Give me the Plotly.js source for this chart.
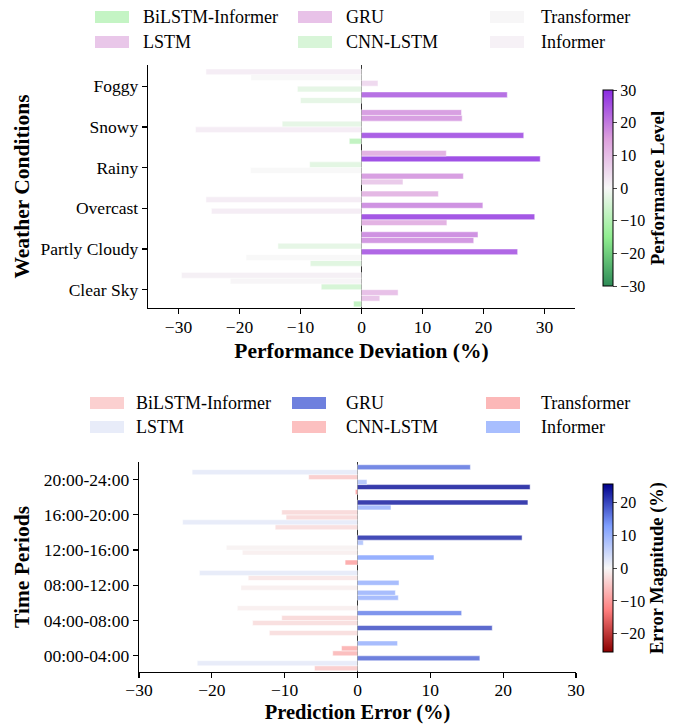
<!DOCTYPE html>
<html><head><meta charset="utf-8">
<script src="https://cdn.plot.ly/plotly-3.0.1.min.js"></script>
<style>html,body{margin:0;padding:0;background:#fff}#chart{width:673px;height:724px}</style>
</head><body><div id="chart"></div>
<script>
// ---------- DATA (top: weather) ----------
const weatherConditions = ['Clear Sky','Partly Cloudy','Overcast','Rainy','Snowy','Foggy'];
const models = ['BiLSTM-Informer','LSTM','GRU','CNN-LSTM','Transformer','Informer'];
const devBiLSTMInformer = [-1.3, -8.4, 14.0, 6.8, -2.0, -10.0];
const devLSTM           = [3.0, -18.9, 28.4, 16.7, 26.6, 23.9];
const devGRU            = [6.0, 25.6, -24.6, -18.2, -27.2, -10.5];
const devCNNLSTM        = [-6.6, -13.7, 19.9, -8.5, -13.0, 2.7];
const devTransformer    = [-21.5, 18.4, -25.5, 29.3, 16.5, -18.1];
const devInformer       = [-29.5, 19.1, 12.6, 13.9, 16.4, -25.5];
// performance level (drives colour)
const perfBiLSTMInformer = [-9, -4, 14, 9, -9, -3];
const perfLSTM           = [10, 0, 28, 17, 26.5, 24];
const perfGRU            = [11, 25.5, 2, 0, 2, -3];
const perfCNNLSTM        = [-5.5, -3, 19, -3.5, -3, 6];
const perfTransformer    = [0.5, 18, 2, 29, 17, 0];
const perfInformer       = [1.5, 19, 13, 14, 17, 2];

// ---------- DATA (bottom: time periods) ----------
const timePeriods = ['00:00-04:00','04:00-08:00','08:00-12:00','12:00-16:00','16:00-20:00','20:00-24:00'];
const errBiLSTMInformer = [-5.9, -12.1, 5.6, -1.7, -11.3, -0.3];
const errLSTM           = [-22.0, 18.5, 5.2, 10.5, -24.0, 23.7];
const errGRU            = [16.8, -14.4, -16.0, -15.8, -9.8, 1.3];
const errCNNLSTM        = [-3.4, -10.4, 5.7, -18.0, -10.4, -6.7];
const errTransformer    = [-2.2, 14.3, -15.0, 0.8, 4.6, -22.7];
const errInformer       = [5.5, -16.5, -21.7, 22.6, 23.4, 15.5];
// error magnitude (drives colour)
const magBiLSTMInformer = [-5, -3, 10, -9, -3, -10];
const magLSTM           = [2, 19, 10, 12, 2, 23.5];
const magGRU            = [17, -3, -1, -1, -3.5, 8];
const magCNNLSTM        = [-7, -3.5, 10, -0.5, -3.5, -5];
const magTransformer    = [-8, 15, -2, 8, 10, 2];
const magInformer       = [10, -1, 2, 22, 23, 16];

const topValues = [devBiLSTMInformer, devLSTM, devGRU, devCNNLSTM, devTransformer, devInformer];
const topLevels = [perfBiLSTMInformer, perfLSTM, perfGRU, perfCNNLSTM, perfTransformer, perfInformer];
const botValues = [errBiLSTMInformer, errLSTM, errGRU, errCNNLSTM, errTransformer, errInformer];
const botLevels = [magBiLSTMInformer, magLSTM, magGRU, magCNNLSTM, magTransformer, magInformer];

// ---------- STYLE ----------
const FONT = '"Liberation Serif", "Times New Roman", serif';
const W = 673, H = 724;
const px = x => x / W, py = y => 1 - y / H;
const BAR_OPACITY = 0.85;
const topScale = [[0,'#2E8B57'],[0.25,'#90EE90'],[0.5,'#F7F7F7'],[0.75,'#DDA0DD'],[1,'#8A2BE2']];
const botScale = [[0,'#8B0000'],[0.25,'#FF7F7F'],[0.5,'#F7F7F7'],[0.75,'#7F9FFF'],[1,'#00008B']];
const TOP_C = [-30, 30], BOT_C = [-25.5, 25.5];

function hexRgb(h){h=h.replace('#','');return [0,2,4].map(i=>parseInt(h.substr(i,2),16));}
function scaleColor(scale, c, v){
  let t = (v - c[0]) / (c[1] - c[0]); t = Math.max(0, Math.min(1, t));
  for (let i = 1; i < scale.length; i++) {
    if (t <= scale[i][0]) {
      const a = scale[i-1], b = scale[i];
      const f = (t - a[0]) / (b[0] - a[0]);
      const ca = hexRgb(a[1]), cb = hexRgb(b[1]);
      const rgb = ca.map((x, k) => x + (cb[k] - x) * f);
      const bl = rgb.map(x => Math.round(x * BAR_OPACITY + 255 * (1 - BAR_OPACITY)));
      return 'rgb(' + bl.join(',') + ')';
    }
  }
  return scale[scale.length-1][1];
}

const traces = [];
models.forEach((m, i) => {
  traces.push({type:'bar', orientation:'h', name:m, x: topValues[i], y: weatherConditions,
    xaxis:'x', yaxis:'y', showlegend:false,
    marker:{color: topLevels[i], coloraxis:'coloraxis', opacity: BAR_OPACITY, line:{color:'white', width:0.5}}});
});
models.forEach((m, i) => {
  traces.push({type:'bar', orientation:'h', name:m, x: botValues[i], y: timePeriods,
    xaxis:'x2', yaxis:'y2', showlegend:false,
    marker:{color: botLevels[i], coloraxis:'coloraxis2', opacity: BAR_OPACITY, line:{color:'white', width:0.5}}});
});

// custom legends (matplotlib-style wide swatches, 3 columns x 2 rows)
const shapes = [], annotations = [];
function addLegend(levels, scale, c, rows, swX, txX){
  models.forEach((m, i) => {
    const col = Math.floor(i / 2), row = i % 2;
    const y = rows[row], x = swX[col];
    shapes.push({type:'rect', xref:'paper', yref:'paper', x0:px(x), x1:px(x+34), y0:py(y-6), y1:py(y+6),
      fillcolor: scaleColor(scale, c, levels[i][0]), line:{width:0}});
    annotations.push({xref:'paper', yref:'paper', x:px(txX[col]), y:py(y), xanchor:'left', yanchor:'middle',
      text:m, showarrow:false, font:{family:FONT, size:18, color:'#000'}});
  });
}
addLegend(topLevels, topScale, TOP_C, [17, 42], [95, 298, 490], [141, 344, 539]);
addLegend(botLevels, botScale, BOT_C, [403, 427], [90, 292, 486], [134, 344, 539]);

const axisCommon = {showline:true, linecolor:'#000', linewidth:1.3, ticks:'outside', ticklen:5, tickwidth:1.3,
  tickcolor:'#000', showgrid:false, tickfont:{family:FONT, size:17.5, color:'#000'}};

const layout = {
  width: W, height: H, margin:{l:0, r:0, t:0, b:0},
  paper_bgcolor:'#fff', plot_bgcolor:'#fff',
  barmode:'group', bargap:0.155, bargroupgap:0,
  font:{family:FONT, color:'#000'},
  xaxis: Object.assign({}, axisCommon, {domain:[px(148), px(575)], anchor:'y', range:[-35, 35], dtick:10,
    ticklabelstandoff:-2, zeroline:true, zerolinecolor:'#333', zerolinewidth:1.5,
    title:{text:'<b>Performance Deviation (%)</b>', font:{family:FONT, size:21.5}, standoff:6}}),
  yaxis: Object.assign({}, axisCommon, {domain:[py(308), py(65)], anchor:'x', type:'category',
    categoryorder:'array', categoryarray: weatherConditions, range:[-0.45, 5.52], zeroline:false,
    title:{text:'<b>Weather Conditions</b>', font:{family:FONT, size:21.5}, standoff:5}}),
  xaxis2: Object.assign({}, axisCommon, {domain:[px(139), px(576)], anchor:'y2', range:[-30, 30], dtick:10,
    ticklabelstandoff:-3, zeroline:true, zerolinecolor:'#333', zerolinewidth:1.5,
    title:{text:'<b>Prediction Error (%)</b>', font:{family:FONT, size:20.5}, standoff:7}}),
  yaxis2: Object.assign({}, axisCommon, {domain:[py(672), py(462)], anchor:'x2', type:'category',
    categoryorder:'array', categoryarray: timePeriods, range:[-0.46, 5.5], zeroline:false,
    title:{text:'<b>Time Periods</b>', font:{family:FONT, size:21.5}, standoff:8}}),
  coloraxis: {cmin:TOP_C[0], cmax:TOP_C[1], colorscale: topScale,
    colorbar:{thickness:10, len:196, lenmode:'pixels', x:px(603), xanchor:'left', xpad:0, ypad:0,
      y:py(188), yanchor:'middle', outlinewidth:1, outlinecolor:'#000', ticks:'outside', ticklen:4, tickwidth:1,
      tickvals:[-30,-20,-10,0,10,20,30], tickfont:{family:FONT, size:16, color:'#000'},
      title:{text:'<b>Performance Level</b>', side:'right', font:{family:FONT, size:19, color:'#000'}}}},
  coloraxis2: {cmin:BOT_C[0], cmax:BOT_C[1], colorscale: botScale,
    colorbar:{thickness:10, len:168, lenmode:'pixels', x:px(603), xanchor:'left', xpad:0, ypad:0,
      y:py(568), yanchor:'middle', outlinewidth:1, outlinecolor:'#000', ticks:'outside', ticklen:4, tickwidth:1,
      tickvals:[-20,-10,0,10,20], tickfont:{family:FONT, size:16, color:'#000'},
      title:{text:'<b>Error Magnitude (%)</b>', side:'right', font:{family:FONT, size:18.5, color:'#000'}}}},
  shapes: shapes, annotations: annotations
};

Plotly.newPlot('chart', traces, layout, {staticPlot:true, displayModeBar:false});
</script>
</body></html>
